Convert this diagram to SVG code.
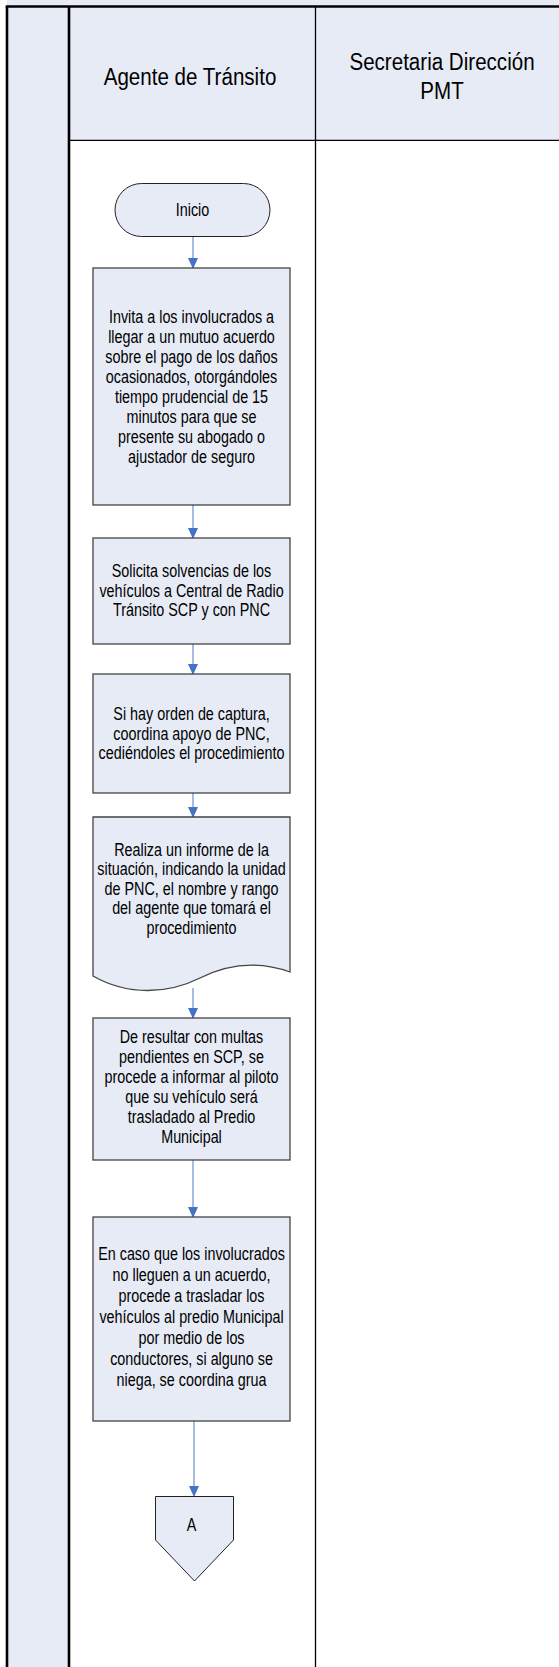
<svg xmlns="http://www.w3.org/2000/svg" width="559" height="1667" viewBox="0 0 559 1667">
<style>
.bg{fill:#E7EBF6}
.frame{stroke:#000;stroke-width:2.6;fill:none}
.thin{stroke:#000;stroke-width:1.3;fill:none}
.box{fill:#E7EBF6;stroke:#444;stroke-width:1.3}
.term{fill:#E7EBF6;stroke:#222;stroke-width:1}
.hd{font-family:"Liberation Sans",Arial,sans-serif;font-size:24.5px;fill:#000;text-anchor:middle}
.tx{font-family:"Liberation Sans",Arial,sans-serif;font-size:17.5px;fill:#000;text-anchor:middle}
.cn{stroke:#6A8FCC;stroke-width:1.2;fill:none}
</style>
<defs>
<marker id="ah" markerWidth="11" markerHeight="12" refX="11" refY="5.5" orient="auto" markerUnits="userSpaceOnUse" viewBox="0 0 12 11">
<path d="M0,0 L12,5.5 L0,11 Z" fill="#4472C4"/>
</marker>
</defs>
<g id="pool">
<rect class="bg" x="7" y="0" width="552" height="7"/>
<rect class="bg" x="7" y="6.5" width="62" height="1661"/>
<rect class="bg" x="69" y="6.5" width="490" height="133.8"/>
<line class="thin" x1="315.5" y1="6.5" x2="315.5" y2="1667"/>
<line class="thin" x1="69" y1="140.3" x2="559" y2="140.3"/>
<line class="frame" x1="5.7" y1="6.5" x2="559" y2="6.5"/>
<line class="frame" x1="7" y1="6.5" x2="7" y2="1667"/>
<line class="frame" x1="69" y1="6.5" x2="69" y2="1667"/>
</g>
<g id="lane-agente">
<text class="hd" transform="translate(190 85) scale(0.84 1)">Agente de Tránsito</text>
</g>
<g id="lane-secretaria">
<text class="hd" transform="translate(442 70) scale(0.84 1)">Secretaria Dirección</text>
<text class="hd" transform="translate(442 99) scale(0.84 1)">PMT</text>
</g>
<g id="connectors">
<line class="cn" x1="193" y1="236" x2="193" y2="268" marker-end="url(#ah)"/>
<line class="cn" x1="193" y1="505" x2="193" y2="538" marker-end="url(#ah)"/>
<line class="cn" x1="193" y1="644" x2="193" y2="674" marker-end="url(#ah)"/>
<line class="cn" x1="193" y1="793" x2="193" y2="817" marker-end="url(#ah)"/>
<line class="cn" x1="193" y1="988" x2="193" y2="1018" marker-end="url(#ah)"/>
<line class="cn" x1="193" y1="1160" x2="193" y2="1217" marker-end="url(#ah)"/>
<line class="cn" x1="194" y1="1421" x2="194" y2="1496" marker-end="url(#ah)"/>
</g>
<g id="inicio">
<rect class="term" x="115" y="183.5" width="155" height="53" rx="26.5" ry="26.5"/>
<text class="tx" transform="translate(192.5 216) scale(0.82 1)">Inicio</text>
</g>
<g id="n1">
<rect class="box" x="93" y="268" width="197" height="237"/>
<text class="tx" transform="translate(191.5 322.5) scale(0.82 1)">Invita a los involucrados a</text>
<text class="tx" transform="translate(191.5 342.5) scale(0.82 1)">llegar a un mutuo acuerdo</text>
<text class="tx" transform="translate(191.5 362.5) scale(0.82 1)">sobre el pago de los daños</text>
<text class="tx" transform="translate(191.5 382.5) scale(0.82 1)">ocasionados, otorgándoles</text>
<text class="tx" transform="translate(191.5 402.5) scale(0.82 1)">tiempo prudencial de 15</text>
<text class="tx" transform="translate(191.5 422.5) scale(0.82 1)">minutos para que se</text>
<text class="tx" transform="translate(191.5 442.5) scale(0.82 1)">presente su abogado o</text>
<text class="tx" transform="translate(191.5 462.5) scale(0.82 1)">ajustador de seguro</text>
</g>
<g id="n2">
<rect class="box" x="93" y="538" width="197" height="106"/>
<text class="tx" transform="translate(191.5 577) scale(0.82 1)">Solicita solvencias de los</text>
<text class="tx" transform="translate(191.5 596.6) scale(0.82 1)">vehículos a Central de Radio</text>
<text class="tx" transform="translate(191.5 616.2) scale(0.82 1)">Tránsito SCP y con PNC</text>
</g>
<g id="n3">
<rect class="box" x="93" y="674" width="197" height="119"/>
<text class="tx" transform="translate(191.5 720) scale(0.82 1)">Si hay orden de captura,</text>
<text class="tx" transform="translate(191.5 739.6) scale(0.82 1)">coordina apoyo de PNC,</text>
<text class="tx" transform="translate(191.5 759.2) scale(0.82 1)">cediéndoles el procedimiento</text>
</g>
<g id="n4">
<path class="box" d="M93,817 H290 V972 C262,962 232,962 200,978 C168,994 128,996 93,976 Z"/>
<text class="tx" transform="translate(191.5 855.5) scale(0.82 1)">Realiza un informe de la</text>
<text class="tx" transform="translate(191.5 875.1) scale(0.82 1)">situación, indicando la unidad</text>
<text class="tx" transform="translate(191.5 894.7) scale(0.82 1)">de PNC, el nombre y rango</text>
<text class="tx" transform="translate(191.5 914.3) scale(0.82 1)">del agente que tomará el</text>
<text class="tx" transform="translate(191.5 933.9) scale(0.82 1)">procedimiento</text>
</g>
<g id="n5">
<rect class="box" x="93" y="1018" width="197" height="142"/>
<text class="tx" transform="translate(191.5 1043) scale(0.82 1)">De resultar con multas</text>
<text class="tx" transform="translate(191.5 1063) scale(0.82 1)">pendientes en SCP, se</text>
<text class="tx" transform="translate(191.5 1083) scale(0.82 1)">procede a informar al piloto</text>
<text class="tx" transform="translate(191.5 1103) scale(0.82 1)">que su vehículo será</text>
<text class="tx" transform="translate(191.5 1123) scale(0.82 1)">trasladado al Predio</text>
<text class="tx" transform="translate(191.5 1143) scale(0.82 1)">Municipal</text>
</g>
<g id="n6">
<rect class="box" x="93" y="1217" width="197" height="204"/>
<text class="tx" transform="translate(191.5 1260) scale(0.82 1)">En caso que los involucrados</text>
<text class="tx" transform="translate(191.5 1281) scale(0.82 1)">no lleguen a un acuerdo,</text>
<text class="tx" transform="translate(191.5 1302) scale(0.82 1)">procede a trasladar los</text>
<text class="tx" transform="translate(191.5 1323) scale(0.82 1)">vehículos al predio Municipal</text>
<text class="tx" transform="translate(191.5 1344) scale(0.82 1)">por medio de los</text>
<text class="tx" transform="translate(191.5 1365) scale(0.82 1)">conductores, si alguno se</text>
<text class="tx" transform="translate(191.5 1386) scale(0.82 1)">niega, se coordina grua</text>
</g>
<g id="conector-A">
<path class="term" d="M155.5,1496.5 H233.5 V1540 L194.5,1581 L155.5,1540 Z"/>
<text class="tx" transform="translate(191.5 1531) scale(0.82 1)">A</text>
</g>
</svg>
